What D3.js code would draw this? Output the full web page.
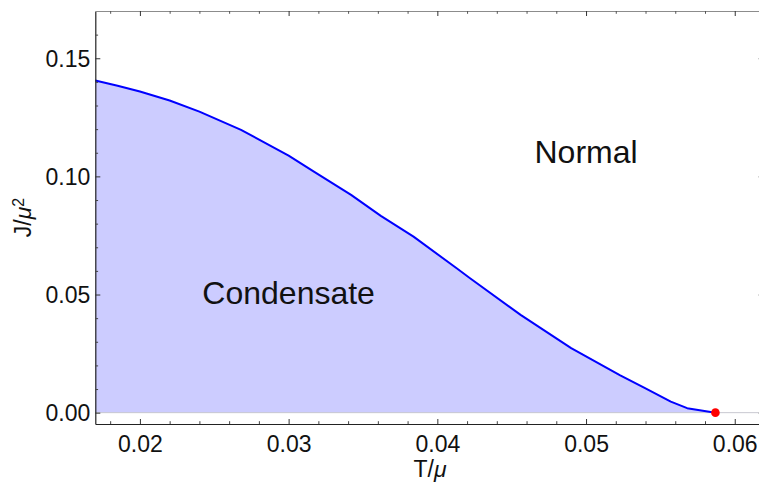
<!DOCTYPE html>
<html>
<head>
<meta charset="utf-8">
<script src="https://cdn.jsdelivr.net/npm/d3@7"></script>
<style>
  html, body { margin: 0; padding: 0; background: #fff; }
  svg { display: block; font-family: "Liberation Sans", Arial, sans-serif; }
</style>
</head>
<body>
<svg id="chart" width="759" height="489"></svg>
<script>
// ---- data ----
const T = [0.0170, 0.0185, 0.0200, 0.0220, 0.0240, 0.0268, 0.0300, 0.0317, 0.0342, 0.0362, 0.0384,
           0.0413, 0.0422, 0.0456, 0.0490, 0.0523, 0.0540, 0.0557, 0.0568, 0.0587];
const J = [0.1406, 0.1384, 0.1359, 0.1321, 0.1274, 0.1197, 0.1088, 0.1020, 0.0922, 0.0833, 0.0745,
           0.0611, 0.0569, 0.0414, 0.0273, 0.0158, 0.0103, 0.0047, 0.0019, 0.0000];
const criticalPoint = [0.0587, 0.0];
const xTicks = [0.02, 0.03, 0.04, 0.05, 0.06];
const xMinorTicks = [0.018, 0.022, 0.024, 0.026, 0.028, 0.032, 0.034, 0.036, 0.038, 0.042, 0.044,
                     0.046, 0.048, 0.052, 0.054, 0.056, 0.058];
const yTicks = [0.00, 0.05, 0.10, 0.15];
const yMinorTicks = [0.01, 0.02, 0.03, 0.04, 0.06, 0.07, 0.08, 0.09, 0.11, 0.12, 0.13, 0.14, 0.16];
const regionLabels = [
  { text: "Normal", t: 0.0500, j: 0.1056 },
  { text: "Condensate", t: 0.0300, j: 0.0460 }
];

const points = T.map((t, i) => ({ t, j: J[i] }));

const svg = d3.select("#chart");
const L = 95.3, R = 763, TOP = 11, B = 424;
const x = d3.scaleLinear().domain([0.017, 0.0619]).range([L, R]);
const y = d3.scaleLinear().domain([-0.0048, 0.17]).range([B, TOP]);

// fill
svg.append("path")
  .datum(points)
  .attr("fill", "#ccccff")
  .attr("d", d3.area().x(d => x(d.t)).y0(y(0)).y1(d => y(d.j)));

// y=0 axis line
svg.append("line")
  .attr("x1", L).attr("x2", R).attr("y1", y(0)).attr("y2", y(0))
  .attr("stroke", "#c8c8d0").attr("stroke-width", 1);

// curve
svg.append("path")
  .datum(points)
  .attr("fill", "none")
  .attr("stroke", "#0000ff")
  .attr("stroke-width", 2)
  .attr("stroke-linejoin", "round")
  .attr("d", d3.line().x(d => x(d.t)).y(d => y(d.j)));

// critical point
svg.append("circle")
  .attr("cx", x(criticalPoint[0])).attr("cy", y(criticalPoint[1]))
  .attr("r", 4.3).attr("fill", "#ff0000");

// axes
const fmt = d3.format(".2f");
function styleAxis(g, lineColor) {
  g.select(".domain").attr("stroke", lineColor).attr("stroke-width", 1.2);
  g.selectAll(".tick line").attr("stroke", "#333");
  g.selectAll(".tick text").attr("fill", "#111").style("font-size", "23px")
    .style("font-family", '"Liberation Sans", Arial, sans-serif');
}

// bottom
const gb = svg.append("g").attr("transform", `translate(0,${B})`)
  .call(d3.axisBottom(x).tickValues(xTicks).tickFormat(fmt).tickSizeInner(-5).tickSizeOuter(0).tickPadding(11.4));
styleAxis(gb, "#222");
svg.append("g").attr("transform", `translate(0,${B})`)
  .call(d3.axisBottom(x).tickValues(xMinorTicks).tickFormat("").tickSizeInner(-2.8).tickSizeOuter(0))
  .call(g => { g.select(".domain").remove(); g.selectAll(".tick line").attr("stroke", "#444"); });

// left
const gl = svg.append("g").attr("transform", `translate(${L},0)`)
  .call(d3.axisLeft(y).tickValues(yTicks).tickFormat(fmt).tickSizeInner(-5).tickSizeOuter(0).tickPadding(5));
styleAxis(gl, "#222");
gl.selectAll(".tick text").attr("dy", "0.36em");
svg.append("g").attr("transform", `translate(${L},0)`)
  .call(d3.axisLeft(y).tickValues(yMinorTicks).tickFormat("").tickSizeInner(-2.8).tickSizeOuter(0))
  .call(g => { g.select(".domain").remove(); g.selectAll(".tick line").attr("stroke", "#444"); });

// top frame
const gt = svg.append("g").attr("transform", `translate(0,${TOP})`)
  .call(d3.axisTop(x).tickValues(xTicks).tickFormat("").tickSizeInner(-5).tickSizeOuter(0));
styleAxis(gt, "#8c8c8c");
svg.append("g").attr("transform", `translate(0,${TOP})`)
  .call(d3.axisTop(x).tickValues(xMinorTicks).tickFormat("").tickSizeInner(-2.8).tickSizeOuter(0))
  .call(g => { g.select(".domain").remove(); g.selectAll(".tick line").attr("stroke", "#555"); });

// right frame (mostly outside the picture)
const gr = svg.append("g").attr("transform", `translate(${R},0)`)
  .call(d3.axisRight(y).tickValues(yTicks).tickFormat("").tickSizeInner(-5).tickSizeOuter(0));
styleAxis(gr, "#8c8c8c");
gr.selectAll(".tick line").attr("stroke", "#bbb");

// region labels
svg.selectAll("text.region").data(regionLabels).enter().append("text")
  .attr("class", "region")
  .attr("x", d => x(d.t)).attr("y", d => y(d.j))
  .attr("text-anchor", "middle")
  .style("font-size", "32px").attr("fill", "#111")
  .text(d => d.text);

// axis labels
const xl = svg.append("text")
  .attr("x", 430).attr("y", 477)
  .attr("text-anchor", "middle").style("font-size", "23px").attr("fill", "#111");
xl.append("tspan").text("T/");
xl.append("tspan").style("font-style", "italic").text("μ");

const yl = svg.append("text")
  .attr("transform", `translate(31,${(TOP + B) / 2}) rotate(-90)`)
  .attr("text-anchor", "middle").style("font-size", "23px").attr("fill", "#111");
yl.append("tspan").text("J/");
yl.append("tspan").style("font-style", "italic").text("μ");
yl.append("tspan").attr("dy", "-0.45em").style("font-size", "16px").text("2");
</script>
</body>
</html>
